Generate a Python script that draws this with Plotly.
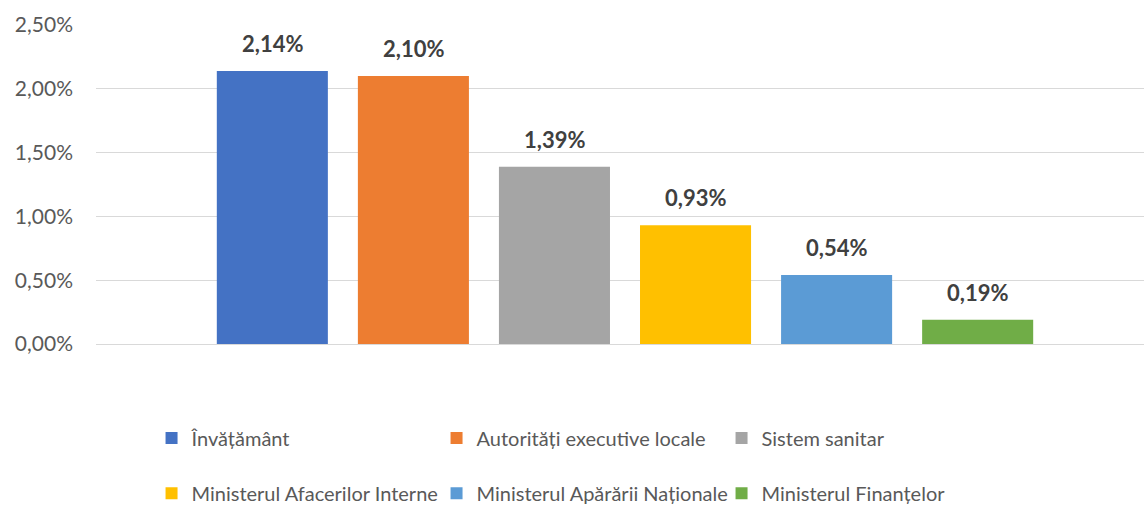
import plotly.graph_objects as go

# Series (one bar each) and their shares
series = [
    "Învățământ",
    "Autorități executive locale",
    "Sistem sanitar",
    "Ministerul Afacerilor Interne",
    "Ministerul Apărării Naționale",
    "Ministerul Finanțelor",
]
shares = [0.0214, 0.0210, 0.0139, 0.0093, 0.0054, 0.0019]
colors = ["#4472C4", "#ED7D31", "#A5A5A5", "#FFC000", "#5B9BD5", "#70AD47"]
y_ticks = [0.0, 0.005, 0.010, 0.015, 0.020, 0.025]

FONT = "Lato, 'Open Sans', sans-serif"
BARGAP = 0.2
BARGROUPGAP = 0.2128

fig = go.Figure()
n = len(series)
for i, (name, val, col) in enumerate(zip(series, shares, colors)):
    fig.add_trace(go.Bar(
        x=[0], y=[val], name=name,
        marker=dict(color=col, line=dict(width=0)),
        legend="legend" if i < 3 else "legend2",
        hovertemplate="%{y:.2%}<extra>" + name + "</extra>",
    ))
    # value label above each bar, at the centre of its slot in the group
    slot = (1 - BARGAP) / n
    fig.add_annotation(
        x=(i - (n - 1) / 2) * slot, y=val, xref="x", yref="y",
        text="<b>" + f"{val * 100:.2f}".replace(".", ",") + "%</b>",
        showarrow=False, yanchor="bottom", yshift=12,
        font=dict(family=FONT, size=22, color="#404040"),
    )

legend_common = dict(
    orientation="h", xanchor="left", yanchor="middle", yref="container",
    font=dict(family=FONT, size=20, color="#595959"),
    entrywidth=240, entrywidthmode="pixels",
    bgcolor="rgba(0,0,0,0)", itemclick=False, itemdoubleclick=False,
)

fig.update_layout(
    width=1144, height=507,
    margin=dict(l=96, r=0, t=25, b=163),
    paper_bgcolor="white", plot_bgcolor="white",
    separators=",.",
    barmode="group", bargap=BARGAP, bargroupgap=BARGROUPGAP,
    showlegend=True,
    legend=dict(x=0.053, y=0.136, **legend_common),
    legend2=dict(x=0.053, y=0.027, **legend_common),
    xaxis=dict(range=[-0.5, -0.5 + 1048 / 1058], showticklabels=False,
               showgrid=False, zeroline=False, showline=False, fixedrange=True),
    yaxis=dict(range=[0, 0.025], tickvals=y_ticks, tickformat=".2%",
               showgrid=True, gridcolor="#D9D9D9", gridwidth=1,
               zeroline=True, zerolinecolor="#D9D9D9", zerolinewidth=1,
               showline=False, ticks="", ticklabelstandoff=22,
               tickfont=dict(family=FONT, size=21, color="#595959"),
               fixedrange=True),
)

fig.write_html("out.html")
